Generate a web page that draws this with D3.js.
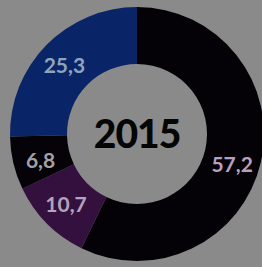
<!DOCTYPE html>
<html><head><meta charset="utf-8">
<script src="https://cdn.jsdelivr.net/npm/d3@7"></script>
<style>html,body{margin:0;padding:0;background:#8a8a8a;overflow:hidden}</style>
</head><body>
<svg id="c" width="262" height="267"></svg>
<script>
const categories = ["A", "B", "C", "D"];
const values = [57.2, 10.7, 6.8, 25.3];
const labels = ["57,2", "10,7", "6,8", "25,3"];
const centerTitle = "2015";

const colors = ["#040206", "#34103f", "#050307", "#0a2567"];
const labelColors = ["#b7a0bf", "#b3a3bb", "#a3a1a6", "#8ea4bd"];
const labelShiftDeg = [5, 0, -2, -1];

const W = 262, H = 267, cx = 137, cy = 134, rO = 127, rI = 70;
const svg = d3.select("#c");
svg.append("rect").attr("width", W).attr("height", H).attr("fill", "#8a8a8a");
const g = svg.append("g").attr("transform", `translate(${cx},${cy})`);

const pie = d3.pie().sort(null).value(d => d)(values);
const arc = d3.arc().innerRadius(rI).outerRadius(rO);
g.selectAll("path.s").data(pie).join("path").attr("class", "s")
  .attr("d", arc).attr("fill", (d, i) => colors[i]);

const lArc = d3.arc().innerRadius(99).outerRadius(101);
g.selectAll("text.l").data(pie).join("text").attr("class", "l")
  .attr("transform", (d, i) => {
    const a = (d.startAngle + d.endAngle) / 2 + labelShiftDeg[i] * Math.PI / 180;
    const c = lArc.centroid({startAngle: a, endAngle: a});
    return `translate(${c[0]},${c[1]})`;
  })
  .attr("text-anchor", "middle").attr("dy", "0.35em")
  .attr("font-family", "Lato").attr("font-weight", "bold").attr("font-size", 21)
  .attr("fill", (d, i) => labelColors[i])
  .text((d, i) => labels[i]);

g.append("text").attr("text-anchor", "middle").attr("dy", "0.36em")
  .attr("font-family", "Lato").attr("font-weight", "900").attr("font-size", 39)
  .attr("letter-spacing", "-1").attr("fill", "#050505").text(centerTitle);
</script>
</body></html>
